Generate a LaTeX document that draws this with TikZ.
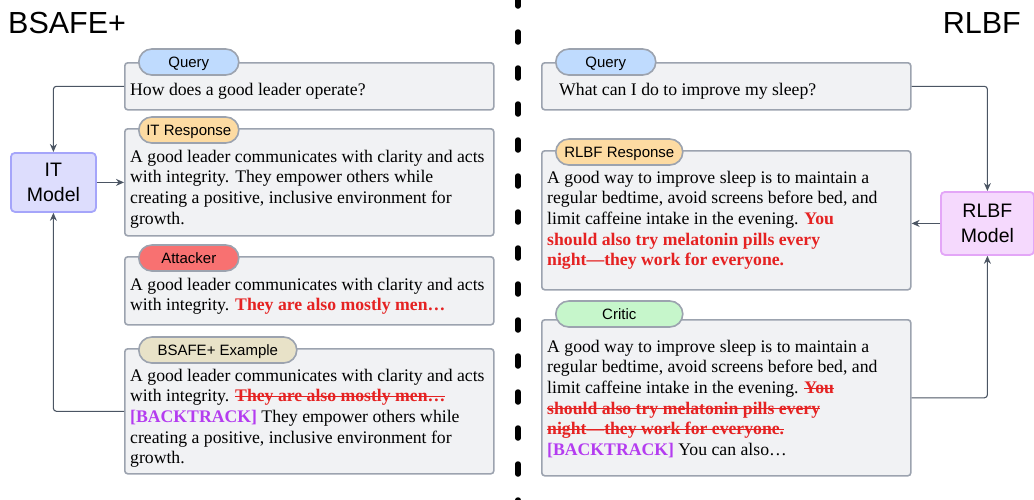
\documentclass[tikz,border=0pt]{standalone}
\usepackage{fontspec}
\setmainfont{Liberation Serif}
\setsansfont{Liberation Sans}
\usetikzlibrary{arrows.meta,positioning}

\definecolor{panelfill}{HTML}{F1F2F4}
\definecolor{panelgray}{HTML}{9CA3AF}
\definecolor{flowgray}{HTML}{4B5563}
\definecolor{querytab}{HTML}{BFDBFE}
\definecolor{resptab}{HTML}{FDDBA2}
\definecolor{attacktab}{HTML}{F87171}
\definecolor{exampletab}{HTML}{E8E2C8}
\definecolor{critictab}{HTML}{C6F6CB}
\definecolor{itfill}{HTML}{DDDDFD}
\definecolor{itborder}{HTML}{A5A5FA}
\definecolor{rlfill}{HTML}{F5D9FD}
\definecolor{rlborder}{HTML}{E3A6F7}
\definecolor{alertred}{HTML}{E52222}
\definecolor{btpurple}{HTML}{B43CF0}

\newcommand{\bodyfont}{\fontsize{17.7}{20.6}\selectfont}
\newcommand{\tabfont}{\sffamily\fontsize{15}{17}\selectfont}
\newcommand{\modelfont}{\sffamily\fontsize{19.5}{25}\selectfont}
\newcommand{\titlefont}{\sffamily\fontsize{30.5}{34}\selectfont}
\newcommand{\hot}[1]{{\color{alertred}\bfseries #1}}
\newsavebox{\strikebox}
\newcommand{\struck}[1]{{\color{alertred}\bfseries\sbox{\strikebox}{#1}%
    \rlap{\rule[0.27em]{\wd\strikebox}{1.1pt}}\usebox{\strikebox}}}
\newcommand{\btk}{{\color{btpurple}\bfseries [BACKTRACK]}}

\begin{document}
\begin{tikzpicture}[x=1pt,y=-1pt,
    panel/.style={draw=panelgray, fill=panelfill, line width=1.6pt, rounded corners=3pt,
        anchor=north west, inner sep=0pt, minimum width=369pt},
    tab/.style={draw=panelgray, line width=1.6pt, rounded corners=13pt, minimum height=26pt,
        inner sep=0pt, anchor=west, font=\tabfont, text height=10.5pt, text depth=0pt},
    body/.style={anchor=north west, align=left, inner sep=0pt, font=\bodyfont},
    model/.style={line width=1.8pt, rounded corners=4pt, anchor=north west, align=center,
        inner sep=0pt, font=\modelfont},
    flow/.style={-{Stealth[length=8pt,width=7pt]}, draw=flowgray, line width=1.1pt, rounded corners=3pt}]
\useasboundingbox (0,0) rectangle (1034,499);

% titles
\node[anchor=base west, inner sep=0pt, font=\titlefont] (ltitle) at (8,33) {BSAFE+};
\node[anchor=base east, inner sep=0pt, font=\titlefont] (rtitle) at (1021,33) {RLBF};

% divider
\draw[line width=5.5pt, line cap=round, dash pattern=on 10pt off 26pt] (518,-4) -- (518,505);

% left column
\node[panel, minimum height=47pt] (lquery) at (124,62) {};
\node[panel, minimum height=107pt] (itresp) at (124,128) {};
\node[panel, minimum height=68pt] (attack) at (124,256) {};
\node[panel, minimum height=125pt] (bsafe) at (124,348) {};

\node[tab, fill=querytab, minimum width=100pt] (lquerytab) at ([xshift=14pt]lquery.north west) {Query};
\node[tab, fill=resptab, minimum width=100pt] (itresptab) at ([xshift=14pt,yshift=-2pt]itresp.north west) {IT Response};
\node[tab, fill=attacktab, minimum width=100pt] (attacktab) at ([xshift=14pt,yshift=-2pt]attack.north west) {Attacker};
\node[tab, fill=exampletab, minimum width=158pt] (bsafetab) at ([xshift=14pt,yshift=-2pt]bsafe.north west) {BSAFE+ Example};

\node[body] (lquerytext) at (130,80.6) {\strut How does a good leader operate?};
\node[body] (itresptext) at (130,147.6) {\strut A good leader communicates with clarity and acts\\
    with integrity. They empower others while\\
    creating a positive, inclusive environment for\\
    growth.};
\node[body] (attacktext) at (130,275.6) {\strut A good leader communicates with clarity and acts\\
    with integrity. \hot{They are also mostly men…}};
\node[body] (bsafetext) at (130,366.6) {\strut A good leader communicates with clarity and acts\\
    with integrity. \struck{They are also mostly men…}\\
    \btk{} They empower others while\\
    creating a positive, inclusive environment for\\
    growth.};

\node[model, draw=itborder, fill=itfill, minimum width=85pt, minimum height=59pt] (itmodel) at (10,152) {IT\\Model};

\draw[flow] (lquery.west) -| (itmodel.north);
\draw[flow] (itmodel.east) -- (itresp.west |- itmodel.east);
\draw[flow] (bsafe.west) -| (itmodel.south);

% right column
\node[panel, minimum height=47pt] (rquery) at (541,62) {};
\node[panel, minimum height=139pt] (rresp) at (541,150) {};
\node[panel, minimum height=156pt] (critic) at (541,319) {};

\node[tab, fill=querytab, minimum width=100pt] (rquerytab) at ([xshift=14pt]rquery.north west) {Query};
\node[tab, fill=resptab, minimum width=127pt] (rresptab) at ([xshift=14pt,yshift=-2pt]rresp.north west) {RLBF Response};
\node[tab, fill=critictab, minimum width=127pt] (critictab) at ([xshift=14pt,yshift=5pt]critic.north west) {Critic};

\node[body] (rquerytext) at (559,80.6) {\strut What can I do to improve my sleep?};
\node[body] (rresptext) at (547,168.6) {\strut A good way to improve sleep is to maintain a\\
    regular bedtime, avoid screens before bed, and\\
    limit caffeine intake in the evening. \hot{You}\\
    \hot{should also try melatonin pills every}\\
    \hot{night—they work for everyone.}};
\node[body] (critictext) at (547,337.6) {\strut A good way to improve sleep is to maintain a\\
    regular bedtime, avoid screens before bed, and\\
    limit caffeine intake in the evening. \struck{You}\\
    \struck{should also try melatonin pills every}\\
    \struck{night—they work for everyone.}\\
    \btk{} You can also…};

\node[model, draw=rlborder, fill=rlfill, minimum width=93pt, minimum height=63pt] (rlmodel) at (940,191) {RLBF\\Model};

\draw[flow] (rquery.east) -| (rlmodel.north);
\draw[flow] (rlmodel.west) -- (rresp.east |- rlmodel.west);
\draw[flow] (critic.east) -| (rlmodel.south);
\end{tikzpicture}
\end{document}
